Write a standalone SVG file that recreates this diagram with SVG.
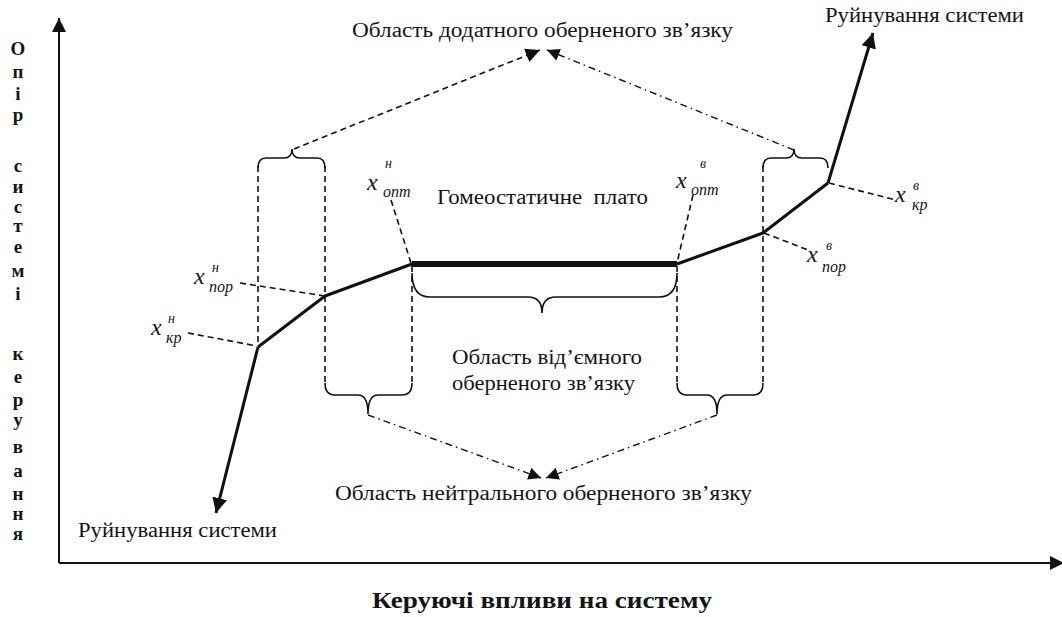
<svg xmlns="http://www.w3.org/2000/svg" width="1062" height="617" viewBox="0 0 1062 617">
<style>
text{font-family:"Liberation Serif","Times New Roman",serif;fill:#141414}
.lbl{font-size:20px}
.ax{font-size:19px;font-weight:bold;text-anchor:middle}
.xv{font-size:24px;font-style:italic}
.sup{font-size:14px;font-style:italic}
.sub{font-size:16px;font-style:italic}
.axis{stroke:#111;stroke-width:2;fill:none}
.curve{stroke:#111;stroke-width:3;fill:none;stroke-linejoin:round}
.dash{stroke:#111;stroke-width:1.6;fill:none;stroke-dasharray:6,4}
.dd{stroke:#111;stroke-width:1.4;fill:none;stroke-dasharray:7,4,1.5,4}
.brace{stroke:#111;stroke-width:1.6;fill:none}
</style>
<defs>
<marker id="big" viewBox="0 0 10 10" refX="10" refY="5" markerWidth="5" markerHeight="5" orient="auto" markerUnits="strokeWidth">
<path d="M0,0 L10,5 L0,10 z" fill="#111"/>
</marker>
<marker id="axh" viewBox="0 0 10 10" refX="10" refY="5" markerWidth="7" markerHeight="7" orient="auto" markerUnits="strokeWidth">
<path d="M0,0 L10,5 L0,10 z" fill="#111"/>
</marker>
<marker id="sm" viewBox="0 0 10 10" refX="10" refY="5" markerWidth="9" markerHeight="9" orient="auto" markerUnits="strokeWidth">
<path d="M0,0 L10,5 L0,10 z" fill="#111"/>
</marker>
</defs>

<g id="axes">
<line class="axis" x1="59" y1="563" x2="59" y2="18" marker-end="url(#axh)"/>
<line class="axis" x1="59" y1="563" x2="1064" y2="563" marker-end="url(#axh)"/>
</g>

<g id="y-label">
<text class="ax" x="18" y="55">О</text>
<text class="ax" x="18" y="78">п</text>
<text class="ax" x="18" y="100">і</text>
<text class="ax" x="18" y="121">р</text>
<text class="ax" x="18" y="172">с</text>
<text class="ax" x="18" y="193">и</text>
<text class="ax" x="18" y="213">с</text>
<text class="ax" x="18" y="232">т</text>
<text class="ax" x="18" y="253">е</text>
<text class="ax" x="18" y="277">м</text>
<text class="ax" x="18" y="300">і</text>
<text class="ax" x="18" y="360">к</text>
<text class="ax" x="18" y="383">е</text>
<text class="ax" x="18" y="406">р</text>
<text class="ax" x="18" y="426">у</text>
<text class="ax" x="18" y="453">в</text>
<text class="ax" x="18" y="477">а</text>
<text class="ax" x="18" y="500">н</text>
<text class="ax" x="18" y="520">н</text>
<text class="ax" x="18" y="540">я</text>
</g>

<g id="x-label">
<text x="372" y="608" font-size="23" font-weight="bold" textLength="340" lengthAdjust="spacingAndGlyphs">Керуючі впливи на систему</text>
</g>

<g id="connectors">
<line class="dash" x1="258" y1="166" x2="258" y2="346"/>
<line class="dash" x1="325" y1="166" x2="325" y2="385"/>
<line class="dash" x1="412" y1="266" x2="412" y2="385"/>
<line class="dash" x1="677" y1="266" x2="677" y2="385"/>
<line class="dash" x1="763" y1="166" x2="763" y2="385"/>
<line class="dash" x1="188" y1="333" x2="257" y2="346"/>
<line class="dash" x1="240" y1="283" x2="325" y2="296"/>
<line class="dash" x1="391" y1="200" x2="411" y2="263"/>
<line class="dash" x1="693" y1="195" x2="677" y2="263"/>
<line class="dash" x1="764" y1="233" x2="808" y2="250"/>
<line class="dash" x1="829" y1="183" x2="896" y2="200"/>
<line class="dash" x1="294" y1="149" x2="540" y2="50" marker-end="url(#sm)"/>
<line class="dd" x1="794" y1="150" x2="547" y2="50" marker-end="url(#sm)"/>
<line class="dd" x1="368" y1="415" x2="541" y2="478" marker-end="url(#sm)"/>
<line class="dd" x1="717" y1="415" x2="546" y2="478" marker-end="url(#sm)"/>
</g>

<g id="curve">
<line class="curve" x1="258" y1="347" x2="216" y2="513" marker-end="url(#big)"/>
<polyline class="curve" points="258,347 325,296 412,264"/>
<line x1="412" y1="264" x2="677" y2="264" stroke="#111" stroke-width="6"/>
<polyline class="curve" points="677,264 763,233 828,183"/>
<line class="curve" x1="828" y1="183" x2="873" y2="33" marker-end="url(#big)"/>
</g>

<g id="braces">
<path class="brace" d="M258,168 Q258,158 266,158 L284,158 Q292,158 292,149 Q292,158 300,158 L317,158 Q325,158 325,168"/>
<path class="brace" d="M763,168 Q763,158 771,158 L786,158 Q794,158 794,149 Q794,158 802,158 L820,158 Q828,158 828,168"/>
<path class="brace" d="M412,273 Q412,297 430,297 L528,297 Q542,297 542,313 Q542,297 556,297 L659,297 Q677,297 677,273"/>
<path class="brace" d="M325,383 Q325,395 335,395 L358,395 Q368,395 368,414 Q368,395 378,395 L402,395 Q412,395 412,383"/>
<path class="brace" d="M677,383 Q677,395 687,395 L707,395 Q717,395 717,414 Q717,395 727,395 L753,395 Q763,395 763,383"/>
</g>

<g id="region-positive">
<text class="lbl" x="352" y="37" textLength="381" lengthAdjust="spacingAndGlyphs">Область додатного оберненого зв’язку</text>
</g>
<g id="plateau-label">
<text class="lbl" x="437" y="204" textLength="211" lengthAdjust="spacingAndGlyphs" xml:space="preserve">Гомеостатичне  плато</text>
</g>
<g id="region-negative">
<text class="lbl" x="452" y="364" textLength="190" lengthAdjust="spacingAndGlyphs">Область від’ємного</text>
<text class="lbl" x="452" y="390" textLength="183" lengthAdjust="spacingAndGlyphs">оберненого зв’язку</text>
</g>
<g id="region-neutral">
<text class="lbl" x="335" y="500" font-size="19" textLength="417" lengthAdjust="spacingAndGlyphs">Область нейтрального оберненого зв’язку</text>
</g>
<g id="ruin-top">
<text class="lbl" x="825" y="22" textLength="199" lengthAdjust="spacingAndGlyphs">Руйнування системи</text>
</g>
<g id="ruin-bottom">
<text class="lbl" x="78" y="537" textLength="199" lengthAdjust="spacingAndGlyphs">Руйнування системи</text>
</g>

<g id="x-kr-n">
<text class="xv" x="151" y="335">x</text>
<text class="sup" x="168" y="323">н</text>
<text class="sub" x="166" y="343">кр</text>
</g>
<g id="x-por-n">
<text class="xv" x="194" y="284">x</text>
<text class="sup" x="212" y="272">н</text>
<text class="sub" x="209" y="292">пор</text>
</g>
<g id="x-opt-n">
<text class="xv" x="367" y="190">x</text>
<text class="sup" x="385" y="168">н</text>
<text class="sub" x="383" y="197">опт</text>
</g>
<g id="x-opt-v">
<text class="xv" x="676" y="188">x</text>
<text class="sup" x="700" y="168">в</text>
<text class="sub" x="691" y="195">опт</text>
</g>
<g id="x-por-v">
<text class="xv" x="807" y="262">x</text>
<text class="sup" x="826" y="250">в</text>
<text class="sub" x="822" y="272">пор</text>
</g>
<g id="x-kr-v">
<text class="xv" x="895" y="202">x</text>
<text class="sup" x="913" y="190">в</text>
<text class="sub" x="912" y="210">кр</text>
</g>
</svg>
